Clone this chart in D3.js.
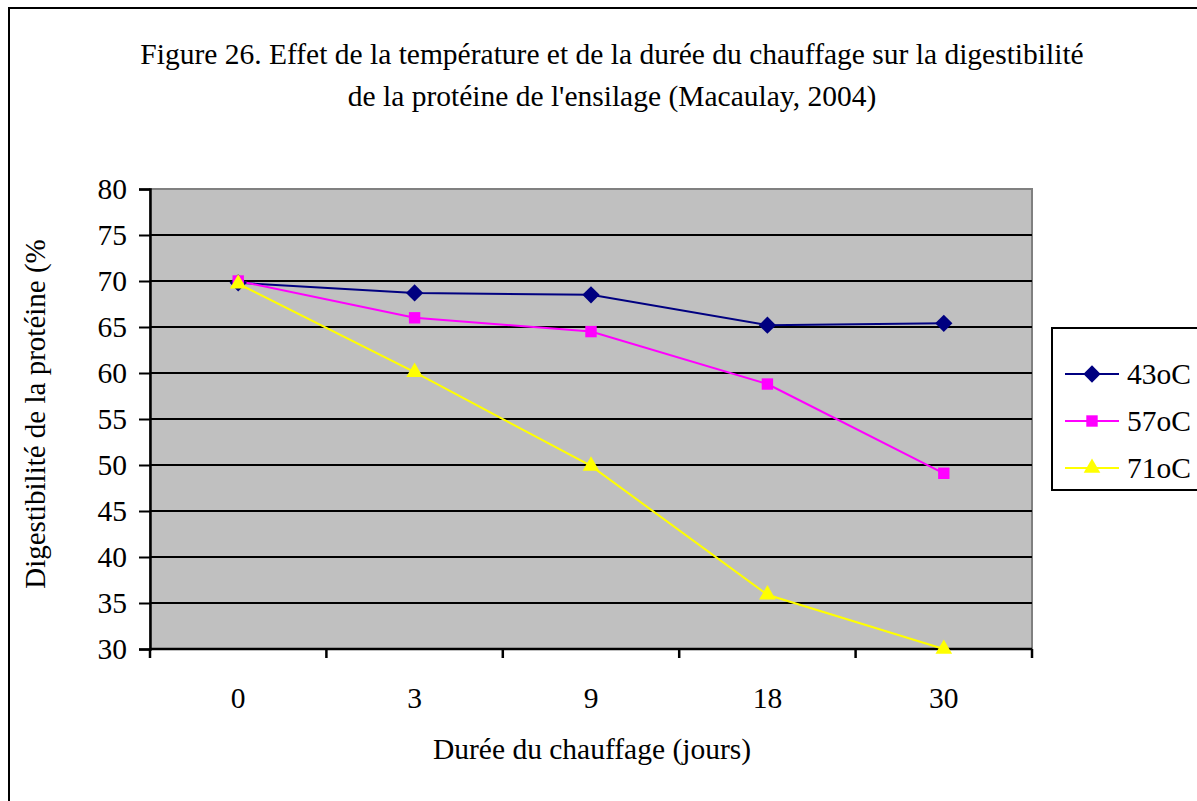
<!DOCTYPE html>
<html>
<head>
<meta charset="utf-8">
<script src="https://cdn.jsdelivr.net/npm/d3@7"></script>
<style>
  body { margin: 0; background: #fff; }
  text { font-family: "Liberation Serif", "Times New Roman", serif; fill: #000; }
</style>
</head>
<body>
<script>
  // data
  const categories = ["0", "3", "9", "18", "30"];
  const series43 = [69.8, 68.7, 68.5, 65.2, 65.4];
  const series57 = [70.0, 66.0, 64.5, 58.8, 49.1];
  const series71 = [69.7, 60.1, 49.9, 35.9, 30.0];
  const seriesNames = ["43oC", "57oC", "71oC"];
  const yTicks = [30, 35, 40, 45, 50, 55, 60, 65, 70, 75, 80];

  const w = 1197, h = 801;
  const plot = { left: 150, top: 189, right: 1032, bottom: 649 };
  const fs = "29.5px";

  const svg = d3.select("body").append("svg")
    .attr("width", w).attr("height", h);

  // outer chart frame (runs off the right/bottom edge)
  svg.append("rect")
    .attr("x", 9).attr("y", 8)
    .attr("width", 1200).attr("height", 800)
    .attr("fill", "#fff").attr("stroke", "#000").attr("stroke-width", 2);

  // title
  const title = svg.append("text")
    .attr("text-anchor", "middle")
    .style("font-size", fs);
  title.append("tspan").attr("x", 612).attr("y", 64)
    .text("Figure 26. Effet de la température et de la durée du chauffage sur la digestibilité");
  title.append("tspan").attr("x", 612).attr("y", 106)
    .text("de la protéine de l'ensilage (Macaulay, 2004)");

  const xScale = d3.scaleBand()
    .domain(categories)
    .range([plot.left, plot.right]);

  const yScale = d3.scaleLinear()
    .domain([30, 80])
    .range([plot.bottom, plot.top]);

  // plot background
  svg.append("rect")
    .attr("x", plot.left).attr("y", plot.top)
    .attr("width", plot.right - plot.left)
    .attr("height", plot.bottom - plot.top)
    .attr("fill", "#c0c0c0")
    .attr("stroke", "#808080").attr("stroke-width", 2);

  // gridlines
  svg.selectAll("line.grid")
    .data(yTicks.filter(d => d > 30 && d < 80))
    .enter().append("line")
    .attr("class", "grid")
    .attr("x1", plot.left).attr("x2", plot.right)
    .attr("y1", d => yScale(d)).attr("y2", d => yScale(d))
    .attr("stroke", "#000").attr("stroke-width", 2);

  // y axis
  const yAxis = svg.append("g")
    .attr("transform", `translate(${plot.left},0)`)
    .call(d3.axisLeft(yScale).tickValues(yTicks).tickSize(11).tickPadding(12));
  yAxis.select(".domain").attr("stroke-width", 2.5);
  yAxis.selectAll(".tick line").attr("stroke-width", 2);
  yAxis.selectAll("text")
    .style("font-size", fs)
    .attr("font-family", "Liberation Serif");

  // x axis: ticks between categories
  const xAxis = svg.append("g")
    .attr("transform", `translate(0,${plot.bottom})`);
  xAxis.append("line")
    .attr("x1", plot.left).attr("x2", plot.right)
    .attr("stroke", "#000").attr("stroke-width", 2.5);
  const edges = categories.map(c => xScale(c)).concat([plot.right]);
  xAxis.selectAll("line.tk")
    .data(edges).enter().append("line")
    .attr("class", "tk")
    .attr("x1", d => d).attr("x2", d => d)
    .attr("y1", 0).attr("y2", 9)
    .attr("stroke", "#000").attr("stroke-width", 2.5);
  xAxis.selectAll("text")
    .data(categories).enter().append("text")
    .attr("x", d => xScale(d) + xScale.bandwidth() / 2)
    .attr("y", 59)
    .attr("text-anchor", "middle")
    .style("font-size", fs)
    .text(d => d);

  // axis titles
  svg.append("text")
    .attr("x", 592).attr("y", 759)
    .attr("text-anchor", "middle")
    .style("font-size", fs)
    .text("Durée du chauffage (jours)");

  svg.append("text")
    .attr("transform", "translate(45,414) rotate(-90)")
    .attr("text-anchor", "middle")
    .style("font-size", "29px")
    .text("Digestibilité de la protéine (%");

  // series
  const allSeries = [
    { name: seriesNames[0], values: series43, color: "#000080", symbol: d3.symbolDiamond2, size: 190 },
    { name: seriesNames[1], values: series57, color: "#ff00ff", symbol: d3.symbolSquare, size: 130 },
    { name: seriesNames[2], values: series71, color: "#ffff00", symbol: d3.symbolTriangle, size: 120 }
  ];

  const line = d3.line()
    .x((d, i) => xScale(categories[i]) + xScale.bandwidth() / 2)
    .y(d => yScale(d));

  allSeries.forEach(s => {
    svg.append("path")
      .datum(s.values)
      .attr("fill", "none")
      .attr("stroke", s.color)
      .attr("stroke-width", 2)
      .attr("d", line);
  });

  allSeries.forEach(s => {
    svg.selectAll(null)
      .data(s.values).enter().append("path")
      .attr("transform", (d, i) =>
        `translate(${xScale(categories[i]) + xScale.bandwidth() / 2},${yScale(d)})`)
      .attr("d", d3.symbol().type(s.symbol).size(s.size))
      .attr("fill", s.color);
  });

  // legend
  const legend = svg.append("g");
  legend.append("rect")
    .attr("x", 1052).attr("y", 328)
    .attr("width", 160).attr("height", 162)
    .attr("fill", "#fff").attr("stroke", "#000").attr("stroke-width", 2);

  allSeries.forEach((s, i) => {
    const y = 374 + i * 47;
    legend.append("line")
      .attr("x1", 1065).attr("x2", 1119)
      .attr("y1", y).attr("y2", y)
      .attr("stroke", s.color).attr("stroke-width", 2);
    legend.append("path")
      .attr("transform", `translate(1092,${y})`)
      .attr("d", d3.symbol().type(s.symbol).size(s.size))
      .attr("fill", s.color);
    legend.append("text")
      .attr("x", 1127).attr("y", y + 10)
      .style("font-size", fs)
      .text(s.name);
  });
</script>
</body>
</html>
